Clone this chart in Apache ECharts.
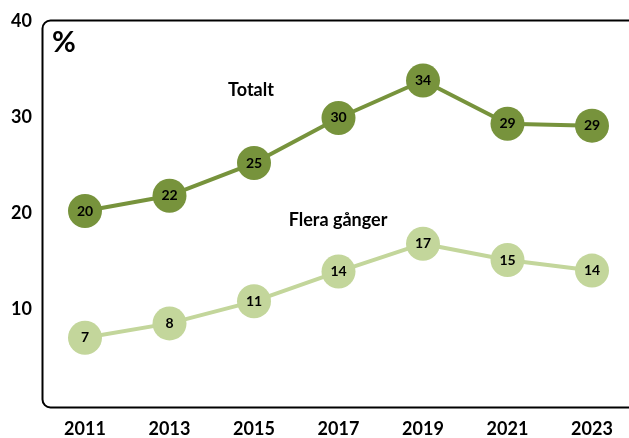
<!DOCTYPE html>
<html><head><meta charset="utf-8">
<script src="https://cdn.jsdelivr.net/npm/echarts@6/dist/echarts.min.js"></script>
<style>html,body{margin:0;padding:0;background:#fff}#c{width:629px;height:438px}</style>
</head><body><div id="c"></div>
<script>
const years = ['2011','2013','2015','2017','2019','2021','2023'];
const totalt = [20.2, 21.8, 25.2, 29.9, 33.8, 29.3, 29.1];
const totaltLabels = [20, 22, 25, 30, 34, 29, 29];
const flera = [7.0, 8.5, 10.8, 13.9, 16.8, 15.1, 14.0];
const fleraLabels = [7, 8, 11, 14, 17, 15, 14];
const yTicks = [0, 10, 20, 30, 40];
const FONT = 'Lato, "Open Sans", sans-serif';

const chart = echarts.init(document.getElementById('c'), null, {renderer:'canvas'});
function lbl(arr){ return p => String(arr[p.dataIndex]); }
chart.setOption({
  animation:false,
  grid:{left:85, top:21, right:37, bottom:29, containLabel:false},
  xAxis:{type:'category', data:years, boundaryGap:false,
    axisLine:{show:false}, axisTick:{show:false},
    axisLabel:{fontFamily:FONT, fontWeight:'bold', fontSize:18, color:'#000', margin:15}},
  yAxis:{type:'value', min:yTicks[0], max:yTicks[yTicks.length-1], interval:10,
    splitLine:{show:false}, axisLine:{show:false}, axisTick:{show:false},
    axisLabel:{fontFamily:FONT, fontWeight:'bold', fontSize:18, color:'#000', margin:53,
      formatter:v => v===0 ? '' : String(v)}},
  series:[
    {type:'line', data:totalt, symbol:'circle', symbolSize:34,
      lineStyle:{color:'#77933C', width:4}, itemStyle:{color:'#77933C'},
      label:{show:true, position:'inside', formatter:lbl(totaltLabels), fontFamily:FONT, fontWeight:'bold', fontSize:14, color:'#000'}},
    {type:'line', data:flera, symbol:'circle', symbolSize:34,
      lineStyle:{color:'#C3D69B', width:4}, itemStyle:{color:'#C3D69B'},
      label:{show:true, position:'inside', formatter:lbl(fleraLabels), fontFamily:FONT, fontWeight:'bold', fontSize:14, color:'#000'}}
  ],
  graphic:[
    {type:'rect', shape:{x:42.5, y:20.5, width:594, height:387, r:8}, style:{fill:'none', stroke:'#000', lineWidth:2}, z:-1},
    {type:'text', left:52, top:28, style:{text:'%', fontFamily:FONT, fontWeight:'bold', fontSize:29, fill:'#000'}},
    {type:'text', x:251, y:90, style:{text:'Totalt', fontFamily:FONT, fontWeight:'bold', fontSize:18, fill:'#000', align:'center', verticalAlign:'middle'}},
    {type:'text', x:338, y:220, style:{text:'Flera gånger', fontFamily:FONT, fontWeight:'bold', fontSize:18, fill:'#000', align:'center', verticalAlign:'middle'}}
  ]
});
</script></body></html>
